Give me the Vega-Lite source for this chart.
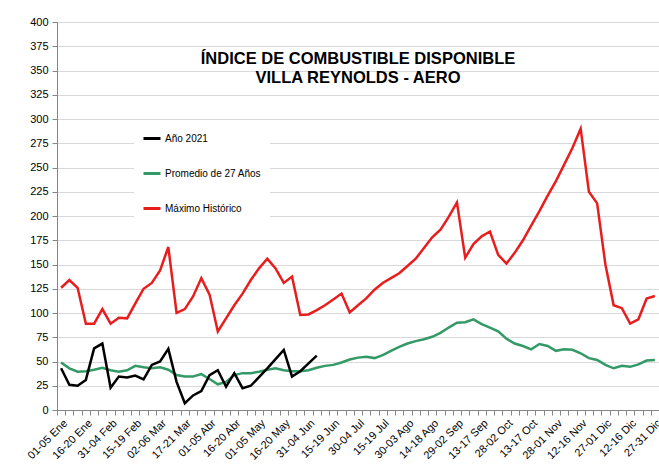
{
  "$schema": "https://vega.github.io/schema/vega-lite/v6.json",
  "width": 602,
  "height": 388,
  "autosize": "none",
  "padding": {"left": 57, "top": 22, "right": 0, "bottom": 59},
  "background": "white",
  "config": {"view": {"stroke": null}, "font": "Liberation Sans"},
  "title": {
    "text": ["ÍNDICE DE COMBUSTIBLE DISPONIBLE", "VILLA REYNOLDS - AERO"],
    "anchor": "middle",
    "frame": "group",
    "font": "Liberation Sans",
    "fontSize": 16.5,
    "fontWeight": "bold",
    "color": "#000000",
    "lineHeight": 19,
    "offset": 0,
    "dy": 70
  },
  "data": {
    "values": [
      {"p": "01-05 Ene", "s": "Máximo Histórico", "v": 126},
      {"p": "06-10 Ene", "s": "Máximo Histórico", "v": 134},
      {"p": "11-15 Ene", "s": "Máximo Histórico", "v": 126},
      {"p": "16-20 Ene", "s": "Máximo Histórico", "v": 89},
      {"p": "21-25 Ene", "s": "Máximo Histórico", "v": 89},
      {"p": "26-30 Ene", "s": "Máximo Histórico", "v": 104},
      {"p": "31-04 Feb", "s": "Máximo Histórico", "v": 89},
      {"p": "05-09 Feb", "s": "Máximo Histórico", "v": 95},
      {"p": "10-14 Feb", "s": "Máximo Histórico", "v": 94.5},
      {"p": "15-19 Feb", "s": "Máximo Histórico", "v": 110},
      {"p": "20-24 Feb", "s": "Máximo Histórico", "v": 125},
      {"p": "25-01 Mar", "s": "Máximo Histórico", "v": 131},
      {"p": "02-06 Mar", "s": "Máximo Histórico", "v": 144},
      {"p": "07-11 Mar", "s": "Máximo Histórico", "v": 168},
      {"p": "12-16 Mar", "s": "Máximo Histórico", "v": 100},
      {"p": "17-21 Mar", "s": "Máximo Histórico", "v": 104},
      {"p": "22-26 Mar", "s": "Máximo Histórico", "v": 117},
      {"p": "27-31 Mar", "s": "Máximo Histórico", "v": 136},
      {"p": "01-05 Abr", "s": "Máximo Histórico", "v": 119},
      {"p": "06-10 Abr", "s": "Máximo Histórico", "v": 81},
      {"p": "11-15 Abr", "s": "Máximo Histórico", "v": 94.5},
      {"p": "16-20 Abr", "s": "Máximo Histórico", "v": 108},
      {"p": "21-25 Abr", "s": "Máximo Histórico", "v": 120},
      {"p": "26-30 Abr", "s": "Máximo Histórico", "v": 134},
      {"p": "01-05 May", "s": "Máximo Histórico", "v": 146},
      {"p": "06-10 May", "s": "Máximo Histórico", "v": 156},
      {"p": "11-15 May", "s": "Máximo Histórico", "v": 146},
      {"p": "16-20 May", "s": "Máximo Histórico", "v": 131},
      {"p": "21-25 May", "s": "Máximo Histórico", "v": 137.5},
      {"p": "26-30 May", "s": "Máximo Histórico", "v": 98},
      {"p": "31-04 Jun", "s": "Máximo Histórico", "v": 98.5},
      {"p": "05-09 Jun", "s": "Máximo Histórico", "v": 103},
      {"p": "10-14 Jun", "s": "Máximo Histórico", "v": 108},
      {"p": "15-19 Jun", "s": "Máximo Histórico", "v": 114},
      {"p": "20-24 Jun", "s": "Máximo Histórico", "v": 120},
      {"p": "25-29 Jun", "s": "Máximo Histórico", "v": 100.5},
      {"p": "30-04 Jul", "s": "Máximo Histórico", "v": 108},
      {"p": "05-09 Jul", "s": "Máximo Histórico", "v": 115},
      {"p": "10-14 Jul", "s": "Máximo Histórico", "v": 124},
      {"p": "15-19 Jul", "s": "Máximo Histórico", "v": 131},
      {"p": "20-24 Jul", "s": "Máximo Histórico", "v": 136},
      {"p": "25-29 Jul", "s": "Máximo Histórico", "v": 141},
      {"p": "30-03 Ago", "s": "Máximo Histórico", "v": 148.5},
      {"p": "04-08 Ago", "s": "Máximo Histórico", "v": 156},
      {"p": "09-13 Ago", "s": "Máximo Histórico", "v": 167},
      {"p": "14-18 Ago", "s": "Máximo Histórico", "v": 178},
      {"p": "19-23 Ago", "s": "Máximo Histórico", "v": 186},
      {"p": "24-28 Ago", "s": "Máximo Histórico", "v": 199},
      {"p": "29-02 Sep", "s": "Máximo Histórico", "v": 214},
      {"p": "03-07 Sep", "s": "Máximo Histórico", "v": 157},
      {"p": "08-12 Sep", "s": "Máximo Histórico", "v": 171},
      {"p": "13-17 Sep", "s": "Máximo Histórico", "v": 179},
      {"p": "18-22 Sep", "s": "Máximo Histórico", "v": 184},
      {"p": "23-27 Sep", "s": "Máximo Histórico", "v": 160},
      {"p": "28-02 Oct", "s": "Máximo Histórico", "v": 151},
      {"p": "03-07 Oct", "s": "Máximo Histórico", "v": 162},
      {"p": "08-12 Oct", "s": "Máximo Histórico", "v": 175},
      {"p": "13-17 Oct", "s": "Máximo Histórico", "v": 190},
      {"p": "18-22 Oct", "s": "Máximo Histórico", "v": 205},
      {"p": "23-27 Oct", "s": "Máximo Histórico", "v": 221},
      {"p": "28-01 Nov", "s": "Máximo Histórico", "v": 236},
      {"p": "02-06 Nov", "s": "Máximo Histórico", "v": 253},
      {"p": "07-11 Nov", "s": "Máximo Histórico", "v": 270},
      {"p": "12-16 Nov", "s": "Máximo Histórico", "v": 290},
      {"p": "17-21 Nov", "s": "Máximo Histórico", "v": 225},
      {"p": "22-26 Nov", "s": "Máximo Histórico", "v": 213},
      {"p": "27-01 Dic", "s": "Máximo Histórico", "v": 150},
      {"p": "02-06 Dic", "s": "Máximo Histórico", "v": 108},
      {"p": "07-11 Dic", "s": "Máximo Histórico", "v": 105},
      {"p": "12-16 Dic", "s": "Máximo Histórico", "v": 89},
      {"p": "17-21 Dic", "s": "Máximo Histórico", "v": 93.5},
      {"p": "22-26 Dic", "s": "Máximo Histórico", "v": 115},
      {"p": "27-31 Dic", "s": "Máximo Histórico", "v": 117.5},

      {"p": "01-05 Ene", "s": "Promedio de 27 Años", "v": 49},
      {"p": "06-10 Ene", "s": "Promedio de 27 Años", "v": 43},
      {"p": "11-15 Ene", "s": "Promedio de 27 Años", "v": 39.5},
      {"p": "16-20 Ene", "s": "Promedio de 27 Años", "v": 40},
      {"p": "21-25 Ene", "s": "Promedio de 27 Años", "v": 41.5},
      {"p": "26-30 Ene", "s": "Promedio de 27 Años", "v": 43.5},
      {"p": "31-04 Feb", "s": "Promedio de 27 Años", "v": 41},
      {"p": "05-09 Feb", "s": "Promedio de 27 Años", "v": 39.5},
      {"p": "10-14 Feb", "s": "Promedio de 27 Años", "v": 41},
      {"p": "15-19 Feb", "s": "Promedio de 27 Años", "v": 45.5},
      {"p": "20-24 Feb", "s": "Promedio de 27 Años", "v": 44},
      {"p": "25-01 Mar", "s": "Promedio de 27 Años", "v": 43},
      {"p": "02-06 Mar", "s": "Promedio de 27 Años", "v": 44},
      {"p": "07-11 Mar", "s": "Promedio de 27 Años", "v": 41.5},
      {"p": "12-16 Mar", "s": "Promedio de 27 Años", "v": 36},
      {"p": "17-21 Mar", "s": "Promedio de 27 Años", "v": 34.5},
      {"p": "22-26 Mar", "s": "Promedio de 27 Años", "v": 34.5},
      {"p": "27-31 Mar", "s": "Promedio de 27 Años", "v": 37},
      {"p": "01-05 Abr", "s": "Promedio de 27 Años", "v": 32},
      {"p": "06-10 Abr", "s": "Promedio de 27 Años", "v": 26.5},
      {"p": "11-15 Abr", "s": "Promedio de 27 Años", "v": 29},
      {"p": "16-20 Abr", "s": "Promedio de 27 Años", "v": 36},
      {"p": "21-25 Abr", "s": "Promedio de 27 Años", "v": 38},
      {"p": "26-30 Abr", "s": "Promedio de 27 Años", "v": 38},
      {"p": "01-05 May", "s": "Promedio de 27 Años", "v": 39.5},
      {"p": "06-10 May", "s": "Promedio de 27 Años", "v": 41.5},
      {"p": "11-15 May", "s": "Promedio de 27 Años", "v": 43},
      {"p": "16-20 May", "s": "Promedio de 27 Años", "v": 41},
      {"p": "21-25 May", "s": "Promedio de 27 Años", "v": 40},
      {"p": "26-30 May", "s": "Promedio de 27 Años", "v": 40},
      {"p": "31-04 Jun", "s": "Promedio de 27 Años", "v": 41},
      {"p": "05-09 Jun", "s": "Promedio de 27 Años", "v": 43.5},
      {"p": "10-14 Jun", "s": "Promedio de 27 Años", "v": 45.5},
      {"p": "15-19 Jun", "s": "Promedio de 27 Años", "v": 46.5},
      {"p": "20-24 Jun", "s": "Promedio de 27 Años", "v": 49},
      {"p": "25-29 Jun", "s": "Promedio de 27 Años", "v": 52},
      {"p": "30-04 Jul", "s": "Promedio de 27 Años", "v": 54},
      {"p": "05-09 Jul", "s": "Promedio de 27 Años", "v": 55},
      {"p": "10-14 Jul", "s": "Promedio de 27 Años", "v": 53.5},
      {"p": "15-19 Jul", "s": "Promedio de 27 Años", "v": 56.5},
      {"p": "20-24 Jul", "s": "Promedio de 27 Años", "v": 61},
      {"p": "25-29 Jul", "s": "Promedio de 27 Años", "v": 65},
      {"p": "30-03 Ago", "s": "Promedio de 27 Años", "v": 68.5},
      {"p": "04-08 Ago", "s": "Promedio de 27 Años", "v": 71},
      {"p": "09-13 Ago", "s": "Promedio de 27 Años", "v": 73},
      {"p": "14-18 Ago", "s": "Promedio de 27 Años", "v": 75.5},
      {"p": "19-23 Ago", "s": "Promedio de 27 Años", "v": 79.5},
      {"p": "24-28 Ago", "s": "Promedio de 27 Años", "v": 85},
      {"p": "29-02 Sep", "s": "Promedio de 27 Años", "v": 90},
      {"p": "03-07 Sep", "s": "Promedio de 27 Años", "v": 90.5},
      {"p": "08-12 Sep", "s": "Promedio de 27 Años", "v": 93.5},
      {"p": "13-17 Sep", "s": "Promedio de 27 Años", "v": 88.5},
      {"p": "18-22 Sep", "s": "Promedio de 27 Años", "v": 85},
      {"p": "23-27 Sep", "s": "Promedio de 27 Años", "v": 81},
      {"p": "28-02 Oct", "s": "Promedio de 27 Años", "v": 73.5},
      {"p": "03-07 Oct", "s": "Promedio de 27 Años", "v": 68.5},
      {"p": "08-12 Oct", "s": "Promedio de 27 Años", "v": 66},
      {"p": "13-17 Oct", "s": "Promedio de 27 Años", "v": 62.5},
      {"p": "18-22 Oct", "s": "Promedio de 27 Años", "v": 68},
      {"p": "23-27 Oct", "s": "Promedio de 27 Años", "v": 66},
      {"p": "28-01 Nov", "s": "Promedio de 27 Años", "v": 61},
      {"p": "02-06 Nov", "s": "Promedio de 27 Años", "v": 62.5},
      {"p": "07-11 Nov", "s": "Promedio de 27 Años", "v": 62},
      {"p": "12-16 Nov", "s": "Promedio de 27 Años", "v": 58.5},
      {"p": "17-21 Nov", "s": "Promedio de 27 Años", "v": 53.5},
      {"p": "22-26 Nov", "s": "Promedio de 27 Años", "v": 51.5},
      {"p": "27-01 Dic", "s": "Promedio de 27 Años", "v": 46.5},
      {"p": "02-06 Dic", "s": "Promedio de 27 Años", "v": 43},
      {"p": "07-11 Dic", "s": "Promedio de 27 Años", "v": 45.5},
      {"p": "12-16 Dic", "s": "Promedio de 27 Años", "v": 44.5},
      {"p": "17-21 Dic", "s": "Promedio de 27 Años", "v": 47},
      {"p": "22-26 Dic", "s": "Promedio de 27 Años", "v": 51},
      {"p": "27-31 Dic", "s": "Promedio de 27 Años", "v": 51.5},

      {"p": "01-05 Ene", "s": "Año 2021", "v": 43},
      {"p": "06-10 Ene", "s": "Año 2021", "v": 26},
      {"p": "11-15 Ene", "s": "Año 2021", "v": 25},
      {"p": "16-20 Ene", "s": "Año 2021", "v": 31},
      {"p": "21-25 Ene", "s": "Año 2021", "v": 63.5},
      {"p": "26-30 Ene", "s": "Año 2021", "v": 68.5},
      {"p": "31-04 Feb", "s": "Año 2021", "v": 23},
      {"p": "05-09 Feb", "s": "Año 2021", "v": 34.5},
      {"p": "10-14 Feb", "s": "Año 2021", "v": 33.5},
      {"p": "15-19 Feb", "s": "Año 2021", "v": 35.5},
      {"p": "20-24 Feb", "s": "Año 2021", "v": 31.5},
      {"p": "25-01 Mar", "s": "Año 2021", "v": 46.5},
      {"p": "02-06 Mar", "s": "Año 2021", "v": 50},
      {"p": "07-11 Mar", "s": "Año 2021", "v": 63},
      {"p": "12-16 Mar", "s": "Año 2021", "v": 29},
      {"p": "17-21 Mar", "s": "Año 2021", "v": 7},
      {"p": "22-26 Mar", "s": "Año 2021", "v": 15},
      {"p": "27-31 Mar", "s": "Año 2021", "v": 19.5},
      {"p": "01-05 Abr", "s": "Año 2021", "v": 36},
      {"p": "06-10 Abr", "s": "Año 2021", "v": 41},
      {"p": "11-15 Abr", "s": "Año 2021", "v": 24},
      {"p": "16-20 Abr", "s": "Año 2021", "v": 38},
      {"p": "21-25 Abr", "s": "Año 2021", "v": 22.5},
      {"p": "26-30 Abr", "s": "Año 2021", "v": 25},
      {"p": "01-05 May", "s": "Año 2021", "v": 34},
      {"p": "06-10 May", "s": "Año 2021", "v": 43},
      {"p": "11-15 May", "s": "Año 2021", "v": 52.5},
      {"p": "16-20 May", "s": "Año 2021", "v": 62},
      {"p": "21-25 May", "s": "Año 2021", "v": 34.5},
      {"p": "26-30 May", "s": "Año 2021", "v": 40},
      {"p": "31-04 Jun", "s": "Año 2021", "v": 48},
      {"p": "05-09 Jun", "s": "Año 2021", "v": 56}
    ]
  },
  "mark": {"type": "line", "strokeWidth": 2.5},
  "encoding": {
    "x": {
      "field": "p",
      "type": "ordinal",
      "sort": null,
      "scale": {"type": "band", "paddingInner": 0, "paddingOuter": 0},
      "axis": {
        "title": null,
        "labelAngle": -45,
        "labelExpr": "indexof(['01-05 Ene','16-20 Ene','31-04 Feb','15-19 Feb','02-06 Mar','17-21 Mar','01-05 Abr','16-20 Abr','01-05 May','16-20 May','31-04 Jun','15-19 Jun','30-04 Jul','15-19 Jul','30-03 Ago','14-18 Ago','29-02 Sep','13-17 Sep','28-02 Oct','13-17 Oct','28-01 Nov','12-16 Nov','27-01 Dic','12-16 Dic','27-31 Dic'], datum.value) >= 0 ? datum.value : ''",
        "labelFont": "Liberation Sans",
        "labelFontSize": 11,
        "labelColor": "#000000",
        "labelOverlap": false,
        "labelPadding": 2,
        "labelDx": -3,
        "tickBand": "extent",
        "grid": false,
        "domainColor": "#868686",
        "tickColor": "#868686",
        "tickSize": 5
      }
    },
    "y": {
      "field": "v",
      "type": "quantitative",
      "scale": {"domain": [0, 400], "nice": false},
      "axis": {
        "title": null,
        "values": [0, 25, 50, 75, 100, 125, 150, 175, 200, 225, 250, 275, 300, 325, 350, 375, 400],
        "labelFont": "Liberation Sans",
        "labelFontSize": 11,
        "labelColor": "#000000",
        "labelPadding": 4,
        "grid": true,
        "gridColor": "#d9d9d9",
        "gridWidth": 1,
        "domainColor": "#868686",
        "tickColor": "#868686",
        "tickSize": 5
      }
    },
    "color": {
      "field": "s",
      "type": "nominal",
      "scale": {
        "domain": ["Año 2021", "Promedio de 27 Años", "Máximo Histórico"],
        "range": ["#000000", "#339966", "#e81e1e"]
      },
      "legend": {
        "orient": "none",
        "legendX": 77,
        "legendY": 98.5,
        "title": null,
        "symbolType": "stroke",
        "symbolStrokeWidth": 3,
        "symbolSize": 289,
        "labelFont": "Liberation Sans",
        "labelFontSize": 10,
        "labelColor": "#000000",
        "labelOffset": 3,
        "rowPadding": 19,
        "padding": 8,
        "fillColor": "#ffffff"
      }
    }
  }
}
